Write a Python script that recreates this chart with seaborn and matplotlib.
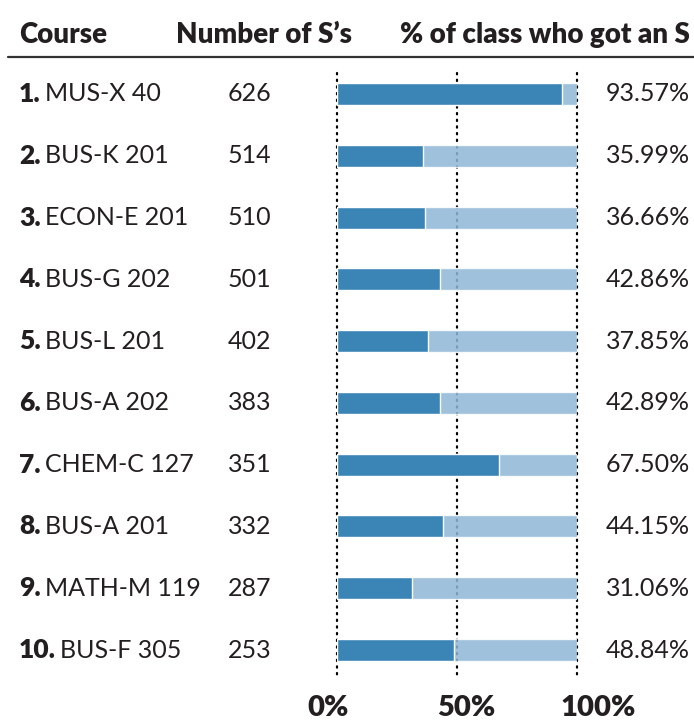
import matplotlib
matplotlib.use("Agg")
import matplotlib.pyplot as plt
import matplotlib.transforms as mtransforms
from matplotlib.lines import Line2D
import seaborn as sns
import pandas as pd

# data
courses = ["MUS-X 40", "BUS-K 201", "ECON-E 201", "BUS-G 202", "BUS-L 201",
           "BUS-A 202", "CHEM-C 127", "BUS-A 201", "MATH-M 119", "BUS-F 305"]
counts = [626, 514, 510, 501, 402, 383, 351, 332, 287, 253]
pcts = [93.57, 35.99, 36.66, 42.86, 37.85, 42.89, 67.50, 44.15, 31.06, 48.84]
ticks = [0, 50, 100]
tick_labels = ["0%", "50%", "100%"]

dark = "#3a84b6"
light = "#8eb7d6"
ink = "#231f20"

sns.set_style("white")
plt.rcParams['font.family'] = ['Lato', 'DejaVu Sans']
plt.rcParams['text.color'] = ink

W, H = 694, 723
fig = plt.figure(figsize=(W / 100, H / 100), dpi=100)

# bar area, placed in pixels
row0, row9 = 94, 650
step = (row9 - row0) / 9
top = row0 - step / 2
bottom = row9 + step / 2
ax = fig.add_axes([337 / W, 1 - bottom / H, 240 / W, (bottom - top) / H])

df = pd.DataFrame({'course': courses, 'count': counts, 'pct': pcts, 'full': [100] * len(courses)})

# light background bar (full class), semi transparent over the dotted guides
sns.barplot(data=df, x='full', y='course', orient='h', color=light, saturation=1,
            width=0.356, alpha=0.85, zorder=3, ax=ax)
# dark bar = share who got an S
sns.barplot(data=df, x='pct', y='course', orient='h', color=dark, saturation=1,
            width=0.356, zorder=4, ax=ax)

# dotted guides at 0/50/100
for t in ticks:
    ax.plot([t, t], [-0.34, 9.45], color='black', lw=1.6, zorder=2,
            linestyle=(0, (0.6, 2.4)), dash_capstyle='round', clip_on=False)

ax.set_xlim(0, 100)
ax.set_ylim(9.5, -0.5)
ax.set_xlabel('')
ax.set_ylabel('')
ax.set_yticks([])
ax.set_xticks(ticks)
ax.set_xticklabels(tick_labels, fontsize=21, fontweight='heavy', color=ink)
ax.tick_params(axis='x', length=0, pad=10)
# the original labels sit a bit off their guides
for lbl, dx in zip(ax.get_xticklabels(), [-9, 9, 21]):
    lbl.set_transform(lbl.get_transform() +
                      mtransforms.ScaledTranslation(dx / 100, 0, fig.dpi_scale_trans))
sns.despine(ax=ax, left=True, bottom=True)

# text columns: x in figure fraction, y in data rows
blend = mtransforms.blended_transform_factory(fig.transFigure, ax.transData)
fs = 18
for i, (c, n, p) in enumerate(zip(courses, counts, pcts)):
    rk = ax.text(19 / W, i, f"{i + 1}.", transform=blend, fontsize=fs + 1,
                 fontweight='heavy', va='center', ha='left', clip_on=False)
    ax.annotate(c, xy=(1, 0.5), xycoords=rk, xytext=(3, 0), textcoords='offset points',
                fontsize=fs, va='center', ha='left', annotation_clip=False)
    ax.text(228 / W, i, f"{n}", transform=blend, fontsize=fs, va='center', ha='left')
    ax.text(690 / W, i, f"{p:.2f}%", transform=blend, fontsize=fs, va='center', ha='right')

# header row
hy = 1 - 35 / H
hfs = 20
fig.text(19 / W, hy, "Course", fontsize=hfs, fontweight='heavy', va='center', ha='left')
fig.text(176 / W, hy, "Number of S\u2019s", fontsize=hfs, fontweight='heavy', va='center', ha='left')
fig.text(690 / W, hy, "% of class who got an S", fontsize=hfs, fontweight='heavy', va='center', ha='right')
fig.add_artist(Line2D([8 / W, 1], [1 - 57 / H] * 2, color='#333333', lw=1.6))

fig.savefig("out.png", dpi=100)
